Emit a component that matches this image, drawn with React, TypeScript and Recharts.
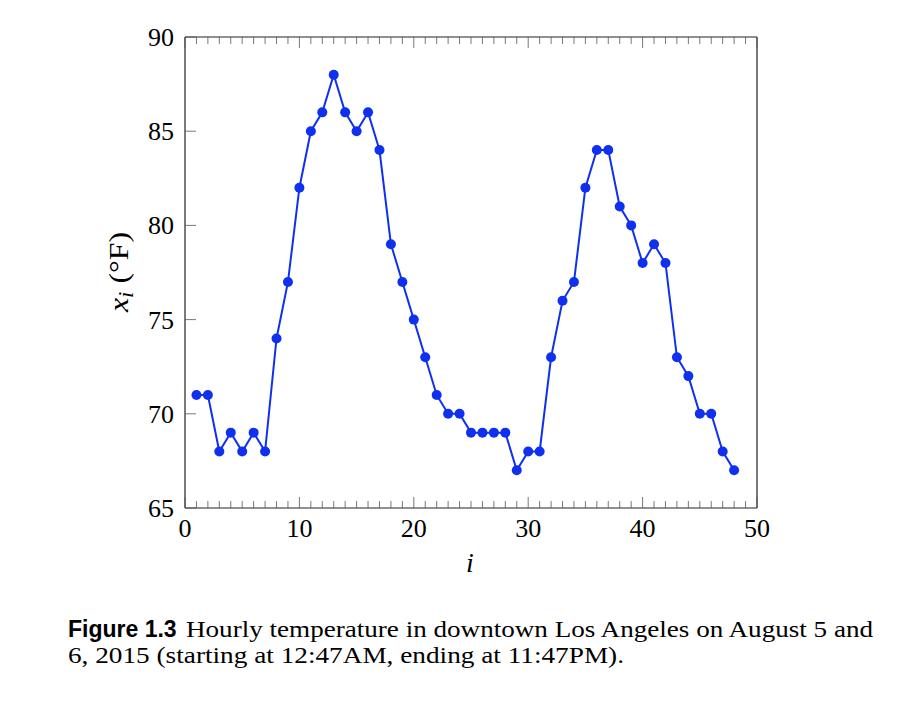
import { Line, LineChart, XAxis, YAxis } from "recharts";

// hourly index (i) and temperature x_i in °F
const hours = [
  1, 2, 3, 4, 5, 6, 7, 8, 9, 10, 11, 12, 13, 14, 15, 16, 17, 18, 19, 20, 21, 22, 23, 24,
  25, 26, 27, 28, 29, 30, 31, 32, 33, 34, 35, 36, 37, 38, 39, 40, 41, 42, 43, 44, 45, 46, 47, 48,
];
const temps = [
  71, 71, 68, 69, 68, 69, 68, 74, 77, 82, 85, 86, 88, 86, 85, 86, 84, 79, 77, 75, 73, 71, 70, 70,
  69, 69, 69, 69, 67, 68, 68, 73, 76, 77, 82, 84, 84, 81, 80, 78, 79, 78, 73, 72, 70, 70, 68, 67,
];

const xTicks = [0, 10, 20, 30, 40, 50];
const xMinorTicks = Array.from({ length: 51 }, (_, i) => i);
const yTicks = [65, 70, 75, 80, 85, 90];

const data = hours.map((h, i) => ({ i: h, temp: temps[i] }));

const SERIF = "'Liberation Serif', 'DejaVu Serif', serif";
const TICK = "#555";
const BLUE = "#1030f0";

const BottomTick = (props: any) => {
  const { x, y, payload } = props;
  const major = xTicks.includes(payload.value);
  return (
    <g>
      <line x1={x} x2={x} y1={y} y2={y - (major ? 11 : 7)} stroke={TICK} strokeWidth={0.8} />
      {major && (
        <text x={x} y={y + 29} textAnchor="middle" fontFamily={SERIF} fontSize={26} fill="#000">
          {payload.value}
        </text>
      )}
    </g>
  );
};

const TopTick = (props: any) => {
  const { x, y, payload } = props;
  const major = xTicks.includes(payload.value);
  return <line x1={x} x2={x} y1={y} y2={y + (major ? 11 : 7)} stroke={TICK} strokeWidth={0.8} />;
};

const LeftTick = (props: any) => {
  const { x, y, payload } = props;
  return (
    <g>
      <line x1={x} x2={x + 11} y1={y} y2={y} stroke={TICK} strokeWidth={0.8} />
      <text x={x - 11} y={y + 9} textAnchor="end" fontFamily={SERIF} fontSize={26} fill="#000">
        {payload.value}
      </text>
    </g>
  );
};

const RightTick = (props: any) => {
  const { x, y } = props;
  return <line x1={x} x2={x - 11} y1={y} y2={y} stroke={TICK} strokeWidth={0.8} />;
};

export default function App() {
  return (
    <div style={{ position: "absolute", left: 0, top: 0, width: 920, height: 710, background: "#fff" }}>
      <LineChart
        width={920}
        height={600}
        data={data}
        margin={{ top: 27, right: 153, bottom: 62, left: 125 }}
      >
        <XAxis
          xAxisId="bottom"
          dataKey="i"
          type="number"
          domain={[0, 50]}
          ticks={xMinorTicks}
          interval={0}
          height={30}
          tickSize={0}
          tickMargin={0}
          tickLine={false}
          axisLine={{ stroke: "#222", strokeWidth: 1.2 }}
          tick={<BottomTick />}
        />
        <XAxis
          xAxisId="top"
          orientation="top"
          dataKey="i"
          type="number"
          domain={[0, 50]}
          ticks={xMinorTicks}
          interval={0}
          height={10}
          tickSize={0}
          tickMargin={0}
          tickLine={false}
          axisLine={{ stroke: "#222", strokeWidth: 1.2 }}
          tick={<TopTick />}
        />
        <YAxis
          yAxisId="left"
          type="number"
          domain={[65, 90]}
          ticks={yTicks}
          interval={0}
          width={60}
          tickSize={0}
          tickMargin={0}
          tickLine={false}
          axisLine={{ stroke: "#222", strokeWidth: 1.2 }}
          tick={<LeftTick />}
        />
        <YAxis
          yAxisId="right"
          orientation="right"
          type="number"
          domain={[65, 90]}
          ticks={yTicks}
          interval={0}
          width={10}
          tickSize={0}
          tickMargin={0}
          tickLine={false}
          axisLine={{ stroke: "#222", strokeWidth: 1.2 }}
          tick={<RightTick />}
        />
        <Line
          xAxisId="bottom"
          yAxisId="left"
          dataKey="temp"
          stroke={BLUE}
          strokeWidth={2}
          dot={{ r: 5, fill: BLUE, stroke: BLUE, strokeWidth: 0 }}
          isAnimationActive={false}
        />
      </LineChart>
      <svg
        width={920}
        height={710}
        style={{ position: "absolute", left: 0, top: 0, pointerEvents: "none" }}
      >
        <text
          x={128}
          y={272}
          transform="rotate(-90 128 272)"
          textAnchor="middle"
          fontFamily={SERIF}
          fontSize={28}
          textLength={80}
          lengthAdjust="spacingAndGlyphs"
        >
          <tspan fontStyle="italic">x</tspan>
          <tspan fontStyle="italic" fontSize={20} dy={5}>i</tspan>
          <tspan dy={-5}> (°F)</tspan>
        </text>
        <text x={470} y={572} textAnchor="middle" fontFamily={SERIF} fontStyle="italic" fontSize={28}>
          i
        </text>
        <text
          x={68}
          y={637}
          fontFamily="'Liberation Sans', Arial, sans-serif"
          fontWeight="bold"
          fontSize={23}
        >
          Figure 1.3
        </text>
        <text
          x={186}
          y={637}
          fontFamily={SERIF}
          fontSize={24}
          textLength={687}
          lengthAdjust="spacingAndGlyphs"
        >
          Hourly temperature in downtown Los Angeles on August 5 and
        </text>
        <text
          x={68}
          y={663}
          fontFamily={SERIF}
          fontSize={24}
          textLength={556}
          lengthAdjust="spacingAndGlyphs"
        >
          6, 2015 (starting at 12:47AM, ending at 11:47PM).
        </text>
      </svg>
    </div>
  );
}
